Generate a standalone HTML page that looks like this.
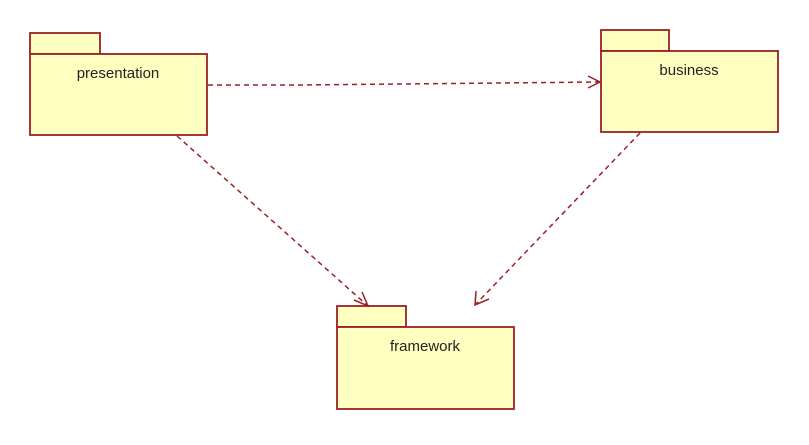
<!DOCTYPE html><html><head><style>body{margin:0;background:#fff}</style></head><body>
<svg width="809" height="440" xmlns="http://www.w3.org/2000/svg" font-family="Liberation Sans, sans-serif">
<g fill="#ffffc0" stroke="#9a2026" stroke-width="1.8">
<rect x="30" y="33" width="70" height="21"/><rect x="30" y="54" width="177" height="81"/>
<rect x="601" y="30" width="68" height="21"/><rect x="601" y="51" width="177" height="81"/>
<rect x="337" y="306" width="69" height="21"/><rect x="337" y="327" width="177" height="82"/>
</g>
<g font-size="15" fill="#222" text-anchor="middle">
<text x="118" y="78">presentation</text>
<text x="689" y="75">business</text>
<text x="425" y="351">framework</text>
</g>
<g stroke="#9a2026" stroke-width="1.5" fill="none" stroke-dasharray="5,4">
<path d="M208 85 L300 85 L600 82"/>
<path d="M177 136 L368 306"/>
<path d="M640 133 L475 305"/>
</g>
<g stroke="#9a2026" stroke-width="1.5" fill="none">
<path d="M588 76 L600 82 L588 88"/>
<path d="M354 300 L368 306 L362 292"/>
<path d="M476 291 L475 305 L489 299"/>
</g>
</svg></body></html>
